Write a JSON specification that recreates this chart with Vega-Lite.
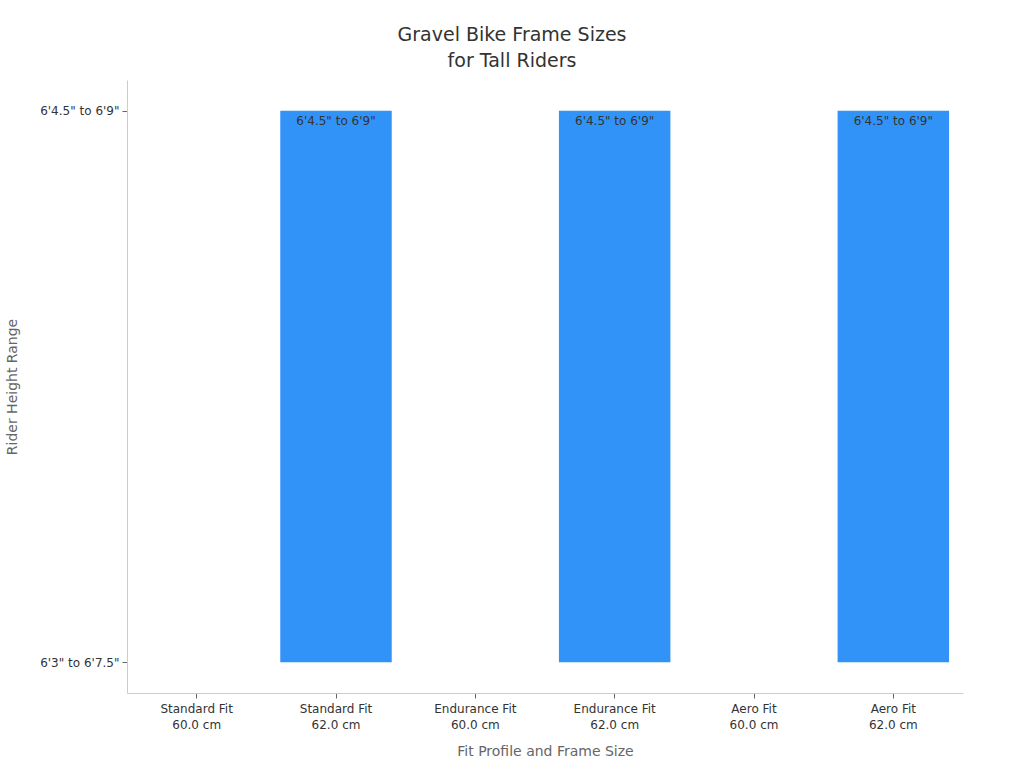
{
  "$schema": "https://vega.github.io/schema/vega-lite/v6.json",
  "width": 1024,
  "height": 768,
  "autosize": {"type": "fit", "contains": "padding"},
  "padding": {"left": 5, "right": 61, "top": 26, "bottom": 10},
  "config": {"font": "DejaVu Sans", "view": {"stroke": null}},
  "title": {
    "text": ["Gravel Bike Frame Sizes", "for Tall Riders"],
    "fontSize": 19,
    "fontWeight": "normal",
    "color": "#333333",
    "anchor": "middle",
    "frame": "group",
    "dx": -33,
    "offset": 9,
    "lineHeight": 26
  },
  "data": {
    "values": [
      {"category": "Standard Fit|60.0 cm", "range": "6'3\" to 6'7.5\"", "base": "6'3\" to 6'7.5\"", "label": ""},
      {"category": "Standard Fit|62.0 cm", "range": "6'4.5\" to 6'9\"", "base": "6'3\" to 6'7.5\"", "label": "6'4.5\" to 6'9\""},
      {"category": "Endurance Fit|60.0 cm", "range": "6'3\" to 6'7.5\"", "base": "6'3\" to 6'7.5\"", "label": ""},
      {"category": "Endurance Fit|62.0 cm", "range": "6'4.5\" to 6'9\"", "base": "6'3\" to 6'7.5\"", "label": "6'4.5\" to 6'9\""},
      {"category": "Aero Fit|60.0 cm", "range": "6'3\" to 6'7.5\"", "base": "6'3\" to 6'7.5\"", "label": ""},
      {"category": "Aero Fit|62.0 cm", "range": "6'4.5\" to 6'9\"", "base": "6'3\" to 6'7.5\"", "label": "6'4.5\" to 6'9\""}
    ]
  },
  "encoding": {
    "x": {
      "field": "category",
      "type": "nominal",
      "sort": null,
      "scale": {"paddingInner": 0.2, "paddingOuter": 0.1},
      "axis": {
        "title": "Fit Profile and Frame Size",
        "labelAngle": 0,
        "labelExpr": "split(datum.label, '|')",
        "labelColor": "#333333",
        "labelFontSize": 12,
        "labelLineHeight": 16,
        "labelPadding": 5,
        "tickColor": "#666666",
        "tickSize": 5,
        "domainColor": "#cccccc",
        "titleColor": "#666666",
        "titleFontSize": 14,
        "titleFontWeight": "normal",
        "titlePadding": 14
      }
    },
    "y": {
      "field": "range",
      "type": "ordinal",
      "scale": {
        "type": "point",
        "domain": ["6'4.5\" to 6'9\"", "6'3\" to 6'7.5\""],
        "padding": 0.056
      },
      "axis": {
        "title": "Rider Height Range",
        "labelColor": "#333333",
        "labelFontSize": 12,
        "labelPadding": 3,
        "tickColor": "#666666",
        "tickSize": 5,
        "domainColor": "#cccccc",
        "titleColor": "#666666",
        "titleFontSize": 14,
        "titleFontWeight": "normal",
        "titlePadding": 20
      }
    }
  },
  "layer": [
    {
      "mark": {"type": "bar", "color": "#3193f8"},
      "encoding": {"y2": {"field": "base"}}
    },
    {
      "transform": [{"filter": "datum.label != ''"}],
      "mark": {"type": "text", "baseline": "top", "dy": 5, "fontSize": 12, "color": "#333333"},
      "encoding": {"text": {"field": "label"}}
    }
  ]
}
